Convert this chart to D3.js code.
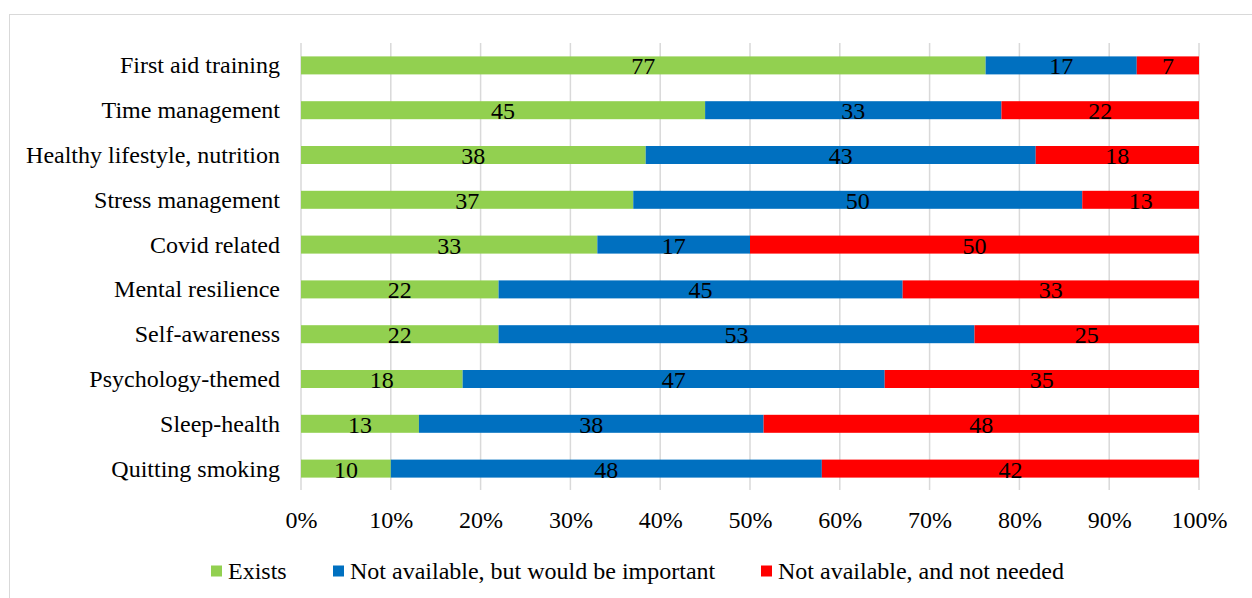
<!DOCTYPE html>
<html>
<head>
<meta charset="utf-8">
<script src="https://cdn.jsdelivr.net/npm/d3@7"></script>
<style>
  html, body { margin: 0; padding: 0; background: #fff; }
  svg { display: block; }
  text { font-family: "Liberation Serif", "Times New Roman", serif; fill: #000; }
</style>
</head>
<body>
<svg id="chart" width="1252" height="598"></svg>
<script>
// Training topics, top to bottom
const categories = [
  "First aid training",
  "Time management",
  "Healthy lifestyle, nutrition",
  "Stress management",
  "Covid related",
  "Mental resilience",
  "Self-awareness",
  "Psychology-themed",
  "Sleep-health",
  "Quitting smoking"
];
const seriesNames = ["Exists", "Not available, but would be important", "Not available, and not needed"];
const seriesColors = ["#92D050", "#0070C0", "#FF0000"];
const exists       = [77, 45, 38, 37, 33, 22, 22, 18, 13, 10];
const important    = [17, 33, 43, 50, 17, 45, 53, 47, 38, 48];
const notNeeded    = [7, 22, 18, 13, 50, 33, 25, 35, 48, 42];
const tickValues   = [0, 0.1, 0.2, 0.3, 0.4, 0.5, 0.6, 0.7, 0.8, 0.9, 1];

const svg = d3.select("#chart");
const W = 1252, H = 598;
const FS = 24;

// chart frame
svg.append("rect")
  .attr("x", 9.5).attr("y", 14.5)
  .attr("width", W + 10).attr("height", H + 10)
  .attr("fill", "#fff").attr("stroke", "#d9d9d9").attr("stroke-width", 1);

const plot = { left: 301, right: 1199, top: 43, bottom: 491 };

const x = d3.scaleLinear().domain([0, 1]).range([plot.left, plot.right]);
const y = d3.scaleBand().domain(categories).range([plot.top, plot.bottom]).paddingInner(0.6).paddingOuter(0.3);

// rows normalised to 100%
const rows = categories.map((c, i) => {
  const vals = [exists[i], important[i], notNeeded[i]];
  const total = d3.sum(vals);
  let acc = 0;
  return vals.map((v, k) => {
    const seg = { cat: c, k, v, x0: acc / total, x1: (acc + v) / total };
    acc += v;
    return seg;
  });
});

// vertical gridlines
svg.append("g").selectAll("line").data(tickValues).join("line")
  .attr("x1", d => x(d)).attr("x2", d => x(d))
  .attr("y1", plot.top).attr("y2", plot.bottom - 1)
  .attr("stroke", "#d9d9d9").attr("stroke-width", 1.5);

// stacked bars
const segs = rows.flat();
svg.append("g").selectAll("rect").data(segs).join("rect")
  .attr("x", d => x(d.x0))
  .attr("y", d => y(d.cat) + (y.bandwidth() - 18) / 2)
  .attr("width", d => x(d.x1) - x(d.x0))
  .attr("height", 18)
  .attr("fill", d => seriesColors[d.k]);

// value labels
svg.append("g").selectAll("text").data(segs).join("text")
  .attr("x", d => (x(d.x0) + x(d.x1)) / 2)
  .attr("y", d => y(d.cat) + y.bandwidth() / 2 + 9)
  .attr("text-anchor", "middle")
  .attr("font-size", FS)
  .text(d => d.v);

// category axis labels
svg.append("g").selectAll("text").data(categories).join("text")
  .attr("x", 280)
  .attr("y", d => y(d) + y.bandwidth() / 2 + 8)
  .attr("text-anchor", "end")
  .attr("font-size", FS)
  .text(d => d);

// percentage axis
const xAxis = d3.axisBottom(x).tickValues(tickValues).tickFormat(d3.format(".0%")).tickSize(0).tickPadding(0);
const gx = svg.append("g").attr("transform", `translate(0, ${plot.bottom})`).call(xAxis);
gx.select(".domain").remove();
gx.selectAll("text")
  .attr("font-family", "Liberation Serif, Times New Roman, serif")
  .attr("font-size", FS)
  .attr("fill", "#000")
  .attr("dy", null)
  .attr("y", 37);

// legend
const legendX = [211, 333, 761];
const lg = svg.append("g").selectAll("g").data(seriesNames).join("g")
  .attr("transform", (d, i) => `translate(${legendX[i]}, 571)`);
lg.append("rect").attr("x", 0).attr("y", -5.5).attr("width", 11).attr("height", 11)
  .attr("fill", (d, i) => seriesColors[i]);
lg.append("text").attr("x", 17).attr("y", 8).attr("font-size", FS).text(d => d);
</script>
</body>
</html>
